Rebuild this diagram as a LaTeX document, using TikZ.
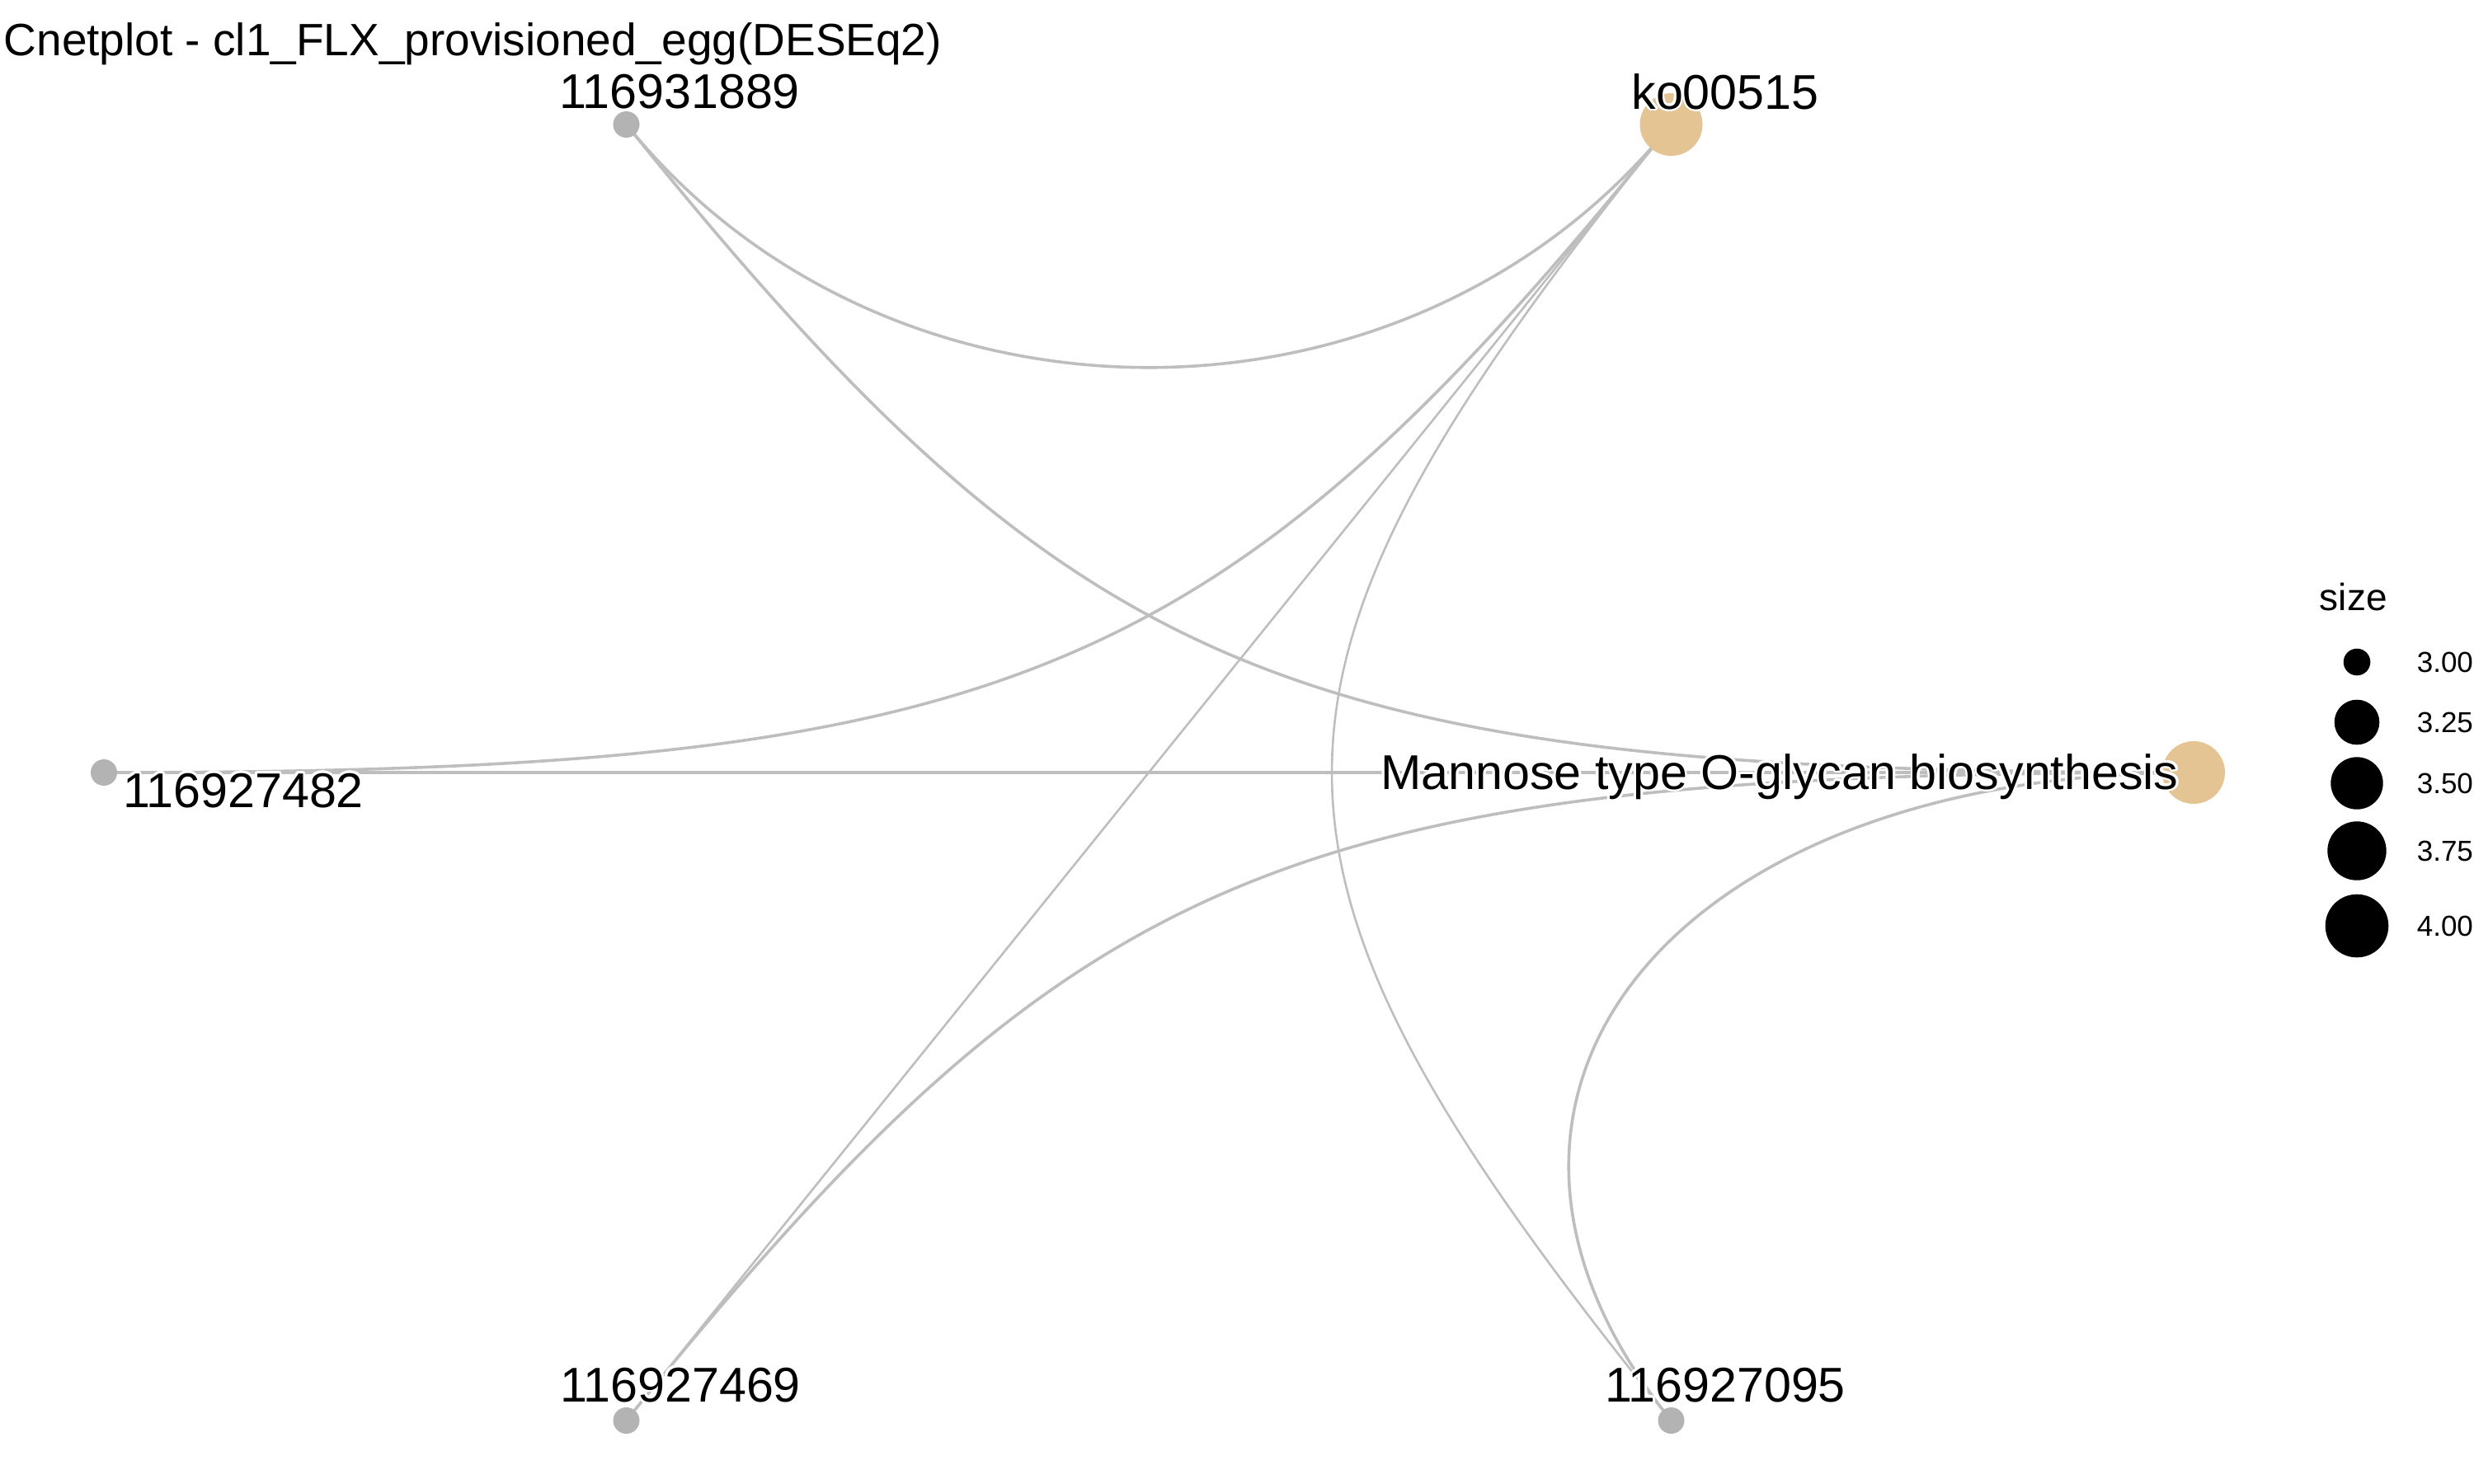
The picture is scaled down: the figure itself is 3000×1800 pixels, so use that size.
\documentclass[tikz,border=0pt]{standalone}
\usepackage{fontspec}
\setmainfont{Liberation Sans}
\usepackage{contour}
\contourlength{0.7pt}
\contournumber{24}
\usetikzlibrary{calc}
\definecolor{edgegrey}{HTML}{BEBEBE}
\definecolor{genegrey}{HTML}{B3B3B3}
\definecolor{cattan}{HTML}{E5C494}
\pgfdeclarelayer{bg}
\pgfsetlayers{bg,main}
\tikzset{
  gene/.style={circle, fill=genegrey, draw=none, inner sep=0pt, minimum size=8pt},
  cat/.style={circle, fill=cattan, draw=none, inner sep=0pt, minimum size=19pt},
  edge/.style={draw=edgegrey, line width=0.9pt},
  thinedge/.style={draw=edgegrey, line width=0.65pt},
  lbl/.style={inner sep=0pt, anchor=base, font=\fontsize{14.8pt}{16pt}\selectfont},
  ttl/.style={inner sep=0pt, anchor=base west, font=\fontsize{13.75pt}{16pt}\selectfont},
  legdot/.style={circle, fill=black, draw=none, inner sep=0pt},
  legtxt/.style={inner sep=0pt, anchor=west, font=\fontsize{8.75pt}{10pt}\selectfont}
}
\begin{document}
\begin{tikzpicture}[x=0.25pt, y=-0.25pt]
\useasboundingbox (0,0) rectangle (3000,1800);
\coordinate (O) at (1393,937);
% nodes
\node[gene] (g889) at (759.5,151) {};
\node[cat]  (ko)   at (2026.5,151) {};
\node[cat]  (man)  at (2660,937) {};
\node[gene] (g095) at (2026.5,1723) {};
\node[gene] (g469) at (759.5,1723) {};
\node[gene] (g482) at (126,937) {};
% edges
\def\kadj{0.5}
\def\ktwo{0.13397}
\begin{pgfonlayer}{bg}
\draw[edge] (g889.center) .. controls ($(O)!\kadj!(g889.center)$) and ($(O)!\kadj!(ko.center)$) .. (ko.center);
\draw[edge] (g889.center) .. controls ($(O)!\ktwo!(g889.center)$) and ($(O)!\ktwo!(man.center)$) .. (man.center);
\draw[edge] (ko.center) .. controls ($(O)!\ktwo!(ko.center)$) and ($(O)!\ktwo!(g482.center)$) .. (g482.center);
\draw[thinedge] (ko.center) -- (g469.center);
\draw[thinedge] (ko.center) .. controls ($(O)!\ktwo!(ko.center)$) and ($(O)!\ktwo!(g095.center)$) .. (g095.center);
\draw[edge] (g482.center) -- (man.center);
\draw[edge] (man.center) .. controls ($(O)!\ktwo!(man.center)$) and ($(O)!\ktwo!(g469.center)$) .. (g469.center);
\draw[edge] (man.center) .. controls ($(O)!\kadj!(man.center)$) and ($(O)!\kadj!(g095.center)$) .. (g095.center);
\end{pgfonlayer}
% labels
\node[lbl] (l889) at (824,131) {\contour{white}{116931889}};
\node[lbl] (lko)  at (2092,132) {\contour{white}{ko00515}};
\node[lbl] (lman) at (2158,957) {\contour{white}{Mannose type O-glycan biosynthesis}};
\node[lbl] (l482) at (295,979) {\contour{white}{116927482}};
\node[lbl] (l469) at (825,1700) {\contour{white}{116927469}};
\node[lbl] (l095) at (2092,1700) {\contour{white}{116927095}};
% title
\node[ttl] (title) at (4,67) {Cnetplot - cl1\_FLX\_provisioned\_egg(DESEq2)};
% legend
\node[inner sep=0pt, anchor=base west, font=\fontsize{11.5pt}{13pt}\selectfont] (legtitle) at (2812,740) {size};
\node[legdot, minimum size=8.15pt]  (k1) at (2858,803) {};
\node[legdot, minimum size=13.65pt] (k2) at (2858,876) {};
\node[legdot, minimum size=15.85pt] (k3) at (2858,950) {};
\node[legdot, minimum size=17.85pt] (k4) at (2858,1032) {};
\node[legdot, minimum size=19.15pt] (k5) at (2858,1123) {};
\node[legtxt] (t1) at (2930,803) {3.00};
\node[legtxt] (t2) at (2930,876) {3.25};
\node[legtxt] (t3) at (2930,950) {3.50};
\node[legtxt] (t4) at (2930,1032) {3.75};
\node[legtxt] (t5) at (2930,1123) {4.00};
\end{tikzpicture}
\end{document}
